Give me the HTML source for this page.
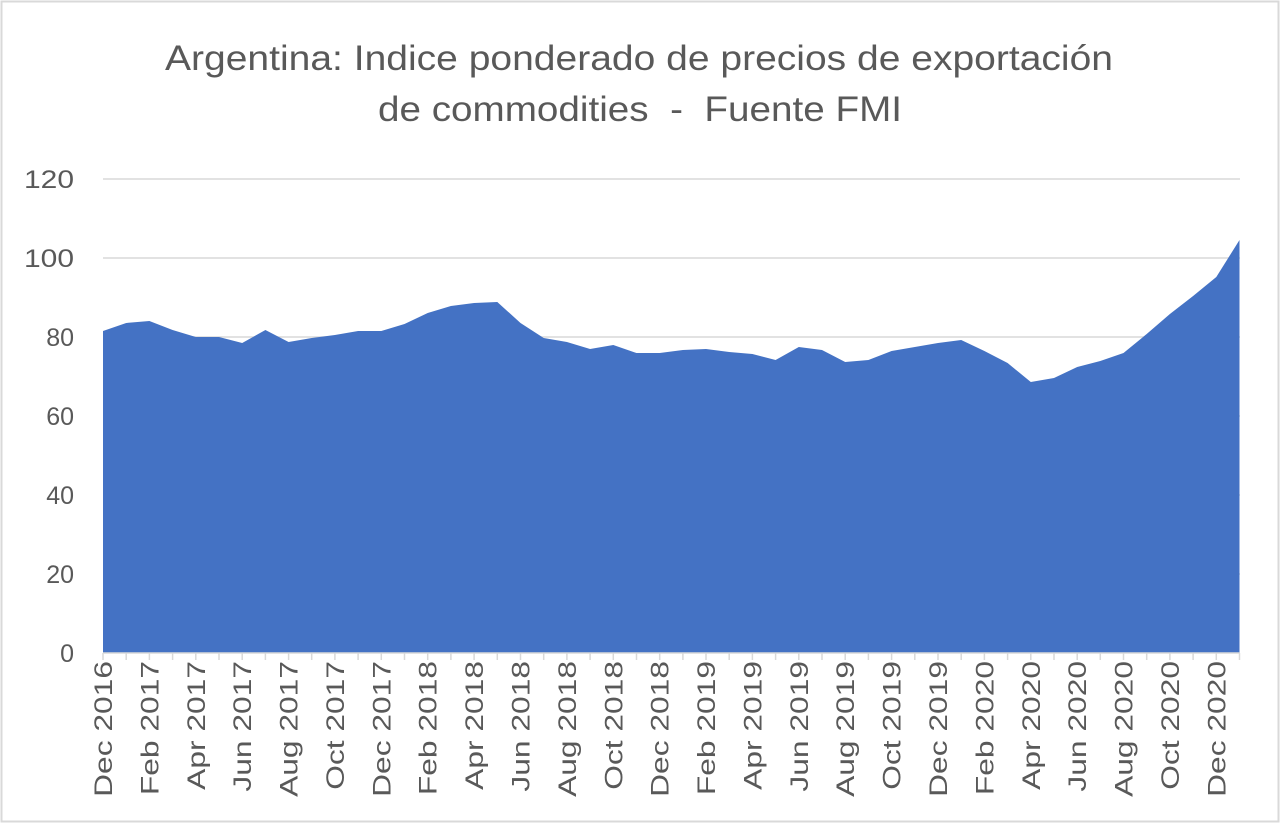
<!DOCTYPE html>
<html><head><meta charset="utf-8"><style>
html,body{margin:0;padding:0;background:#fff;}
svg{display:block;font-family:"Liberation Sans",sans-serif;}
</style></head><body>
<svg width="1280" height="823" viewBox="0 0 1280 823">
<rect x="1.5" y="1.5" width="1277" height="820" fill="#fff" stroke="#d9d9d9" stroke-width="2"/>
<text x="165" y="70" font-size="35" fill="#595959" textLength="948" lengthAdjust="spacingAndGlyphs">Argentina: Indice ponderado de precios de exportación</text>
<text x="378" y="121" font-size="35" fill="#595959" textLength="524" lengthAdjust="spacingAndGlyphs" xml:space="preserve">de commodities  -  Fuente FMI</text>
<g stroke="#d9d9d9" stroke-width="1.5">
<line x1="103" y1="179" x2="1240" y2="179"/>
<line x1="103" y1="258" x2="1240" y2="258"/>
<line x1="103" y1="337" x2="1240" y2="337"/>
<line x1="103" y1="416" x2="1240" y2="416"/>
<line x1="103" y1="495" x2="1240" y2="495"/>
<line x1="103" y1="574" x2="1240" y2="574"/>
</g>
<g font-size="25" fill="#595959" text-anchor="end">
<text x="74" y="188" textLength="50" lengthAdjust="spacingAndGlyphs">120</text><text x="74" y="267" textLength="50" lengthAdjust="spacingAndGlyphs">100</text><text x="74" y="346">80</text>
<text x="74" y="425">60</text><text x="74" y="504">40</text><text x="74" y="583">20</text><text x="74" y="662">0</text>
</g>
<polygon fill="#4472c4" points="103,653 103.0,331 126.2,323 149.4,321 172.6,330 195.8,337 219.0,337 242.2,343 265.4,330 288.6,342 311.7,338 334.9,335 358.1,331 381.3,331 404.5,324 427.7,313 450.9,306 474.1,303 497.3,302 520.5,323 543.7,338 566.9,342 590.1,349 613.3,345 636.5,353 659.7,353 682.9,350 706.0,349 729.2,352 752.4,354 775.6,360 798.8,347 822.0,350 845.2,362 868.4,360 891.6,351 914.8,347 938.0,343 961.2,340 984.4,351 1007.6,363 1030.8,382 1054.0,378 1077.2,367 1100.3,361 1123.5,353 1146.7,334 1169.9,314 1193.1,296 1216.3,277 1239.5,240 1239.5,653"/>
<line x1="103" y1="653" x2="1240" y2="653" stroke="#d9d9d9" stroke-width="1.5"/>
<g stroke="#d9d9d9" stroke-width="1.5">
<path d="M103,653v7M126.2,653v7M149.4,653v7M172.6,653v7M195.8,653v7M219,653v7M242.2,653v7M265.4,653v7M288.6,653v7M311.7,653v7M334.9,653v7M358.1,653v7M381.3,653v7M404.5,653v7M427.7,653v7M450.9,653v7M474.1,653v7M497.3,653v7M520.5,653v7M543.7,653v7M566.9,653v7M590.1,653v7M613.3,653v7M636.5,653v7M659.7,653v7M682.9,653v7M706,653v7M729.2,653v7M752.4,653v7M775.6,653v7M798.8,653v7M822,653v7M845.2,653v7M868.4,653v7M891.6,653v7M914.8,653v7M938,653v7M961.2,653v7M984.4,653v7M1007.6,653v7M1030.8,653v7M1054,653v7M1077.2,653v7M1100.3,653v7M1123.5,653v7M1146.7,653v7M1169.9,653v7M1193.1,653v7M1216.3,653v7M1239.5,653v7"/>
</g>
<g font-size="25" fill="#595959" text-anchor="end">
<text transform="translate(112,661) rotate(-90) scale(1.27,1)">Dec 2016</text>
<text transform="translate(158.4,661) rotate(-90) scale(1.27,1)">Feb 2017</text>
<text transform="translate(204.8,661) rotate(-90) scale(1.27,1)">Apr 2017</text>
<text transform="translate(251.2,661) rotate(-90) scale(1.27,1)">Jun 2017</text>
<text transform="translate(297.6,661) rotate(-90) scale(1.27,1)">Aug 2017</text>
<text transform="translate(343.9,661) rotate(-90) scale(1.27,1)">Oct 2017</text>
<text transform="translate(390.3,661) rotate(-90) scale(1.27,1)">Dec 2017</text>
<text transform="translate(436.7,661) rotate(-90) scale(1.27,1)">Feb 2018</text>
<text transform="translate(483.1,661) rotate(-90) scale(1.27,1)">Apr 2018</text>
<text transform="translate(529.5,661) rotate(-90) scale(1.27,1)">Jun 2018</text>
<text transform="translate(575.9,661) rotate(-90) scale(1.27,1)">Aug 2018</text>
<text transform="translate(622.3,661) rotate(-90) scale(1.27,1)">Oct 2018</text>
<text transform="translate(668.7,661) rotate(-90) scale(1.27,1)">Dec 2018</text>
<text transform="translate(715,661) rotate(-90) scale(1.27,1)">Feb 2019</text>
<text transform="translate(761.4,661) rotate(-90) scale(1.27,1)">Apr 2019</text>
<text transform="translate(807.8,661) rotate(-90) scale(1.27,1)">Jun 2019</text>
<text transform="translate(854.2,661) rotate(-90) scale(1.27,1)">Aug 2019</text>
<text transform="translate(900.6,661) rotate(-90) scale(1.27,1)">Oct 2019</text>
<text transform="translate(947,661) rotate(-90) scale(1.27,1)">Dec 2019</text>
<text transform="translate(993.4,661) rotate(-90) scale(1.27,1)">Feb 2020</text>
<text transform="translate(1039.8,661) rotate(-90) scale(1.27,1)">Apr 2020</text>
<text transform="translate(1086.2,661) rotate(-90) scale(1.27,1)">Jun 2020</text>
<text transform="translate(1132.5,661) rotate(-90) scale(1.27,1)">Aug 2020</text>
<text transform="translate(1178.9,661) rotate(-90) scale(1.27,1)">Oct 2020</text>
<text transform="translate(1225.3,661) rotate(-90) scale(1.27,1)">Dec 2020</text>
</g>
</svg>
</body></html>
